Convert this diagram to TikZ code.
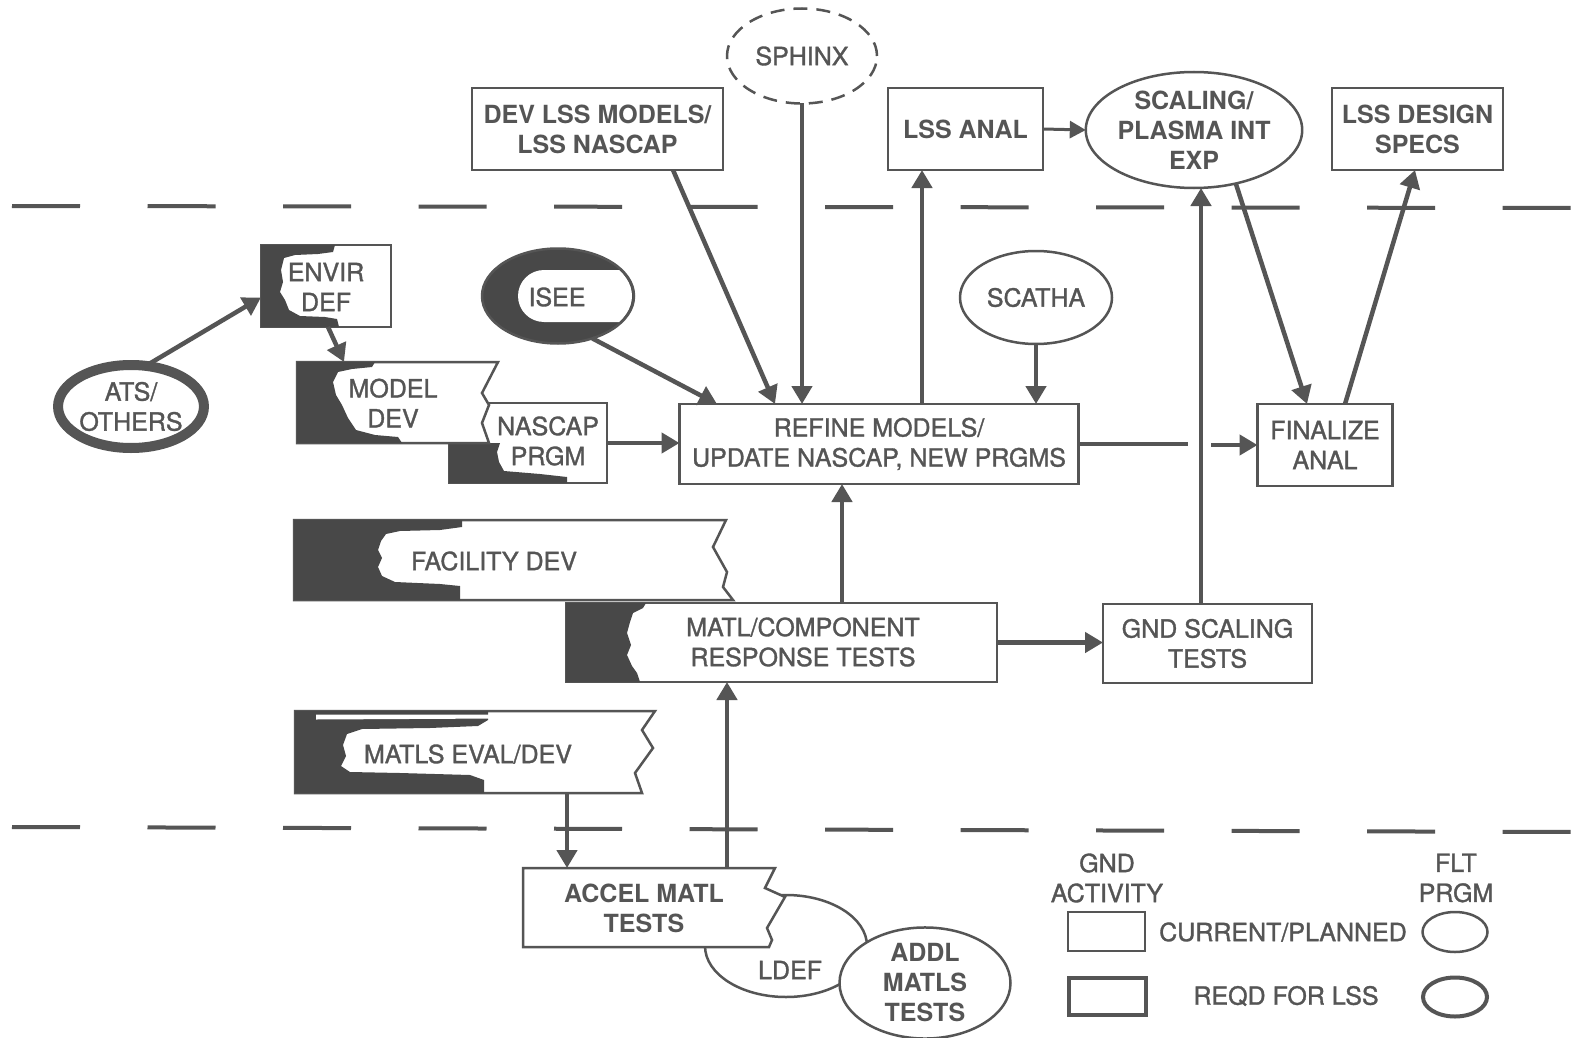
\documentclass[tikz,border=0pt]{standalone}
\usepackage{fontspec}
\setmainfont{TeX Gyre Heros}[UprightFeatures={FakeBold=1.3}]
\usetikzlibrary{arrows.meta,shapes.geometric,calc}
\definecolor{ink}{RGB}{85,85,85}
\definecolor{inkd}{RGB}{72,72,72}
\newcommand\regf{\fontsize{25}{30}\selectfont}
\newcommand\bldf{\fontsize{25}{30}\selectfont\bfseries}
\begin{document}
\begin{tikzpicture}[x=1pt,y=-1pt,
 box/.style={rectangle,draw=ink,line width=2.5pt,fill=white,inner sep=0pt,outer sep=0pt,align=center,text=ink,font=\regf},
 bbox/.style={box,font=\bldf},
 oval/.style={ellipse,draw=ink,line width=2.5pt,fill=white,inner sep=0pt,outer sep=0pt,align=center,text=ink,font=\regf},
 boval/.style={oval,font=\bldf},
 lbl/.style={inner sep=0pt,align=center,text=ink,font=\regf},
 blbl/.style={lbl,font=\bldf},
 frame/.style={rectangle,inner sep=0pt,outer sep=0pt},
 outline/.style={draw=ink,line width=2.5pt,fill=white,line join=miter},
 dark/.style={fill=inkd},
 arr/.style={draw=ink,line width=4.5pt,-{Triangle[length=18pt,width=20pt]}},
 thinarr/.style={draw=ink,line width=3pt,-{Triangle[length=16pt,width=17pt]}},
 lineonly/.style={draw=ink,line width=4.5pt},
 sep/.style={draw=ink,line width=4pt,dash pattern=on 68pt off 67.5pt},
]
\useasboundingbox (0,0) rectangle (1574,1038);
\fill[white] (0,0) rectangle (1574,1038);

% separators
\draw[sep] (12,206) -- (1574,208);
\draw[sep] (12,827) -- (1574,832);

% top row
\node[oval,dashed,dash pattern=on 14pt off 9pt,minimum width=150pt,minimum height=95pt] (sphinx) at (802,56) {SPHINX};
\node[bbox,minimum width=251pt,minimum height=82pt] (dev) at (597.5,129) {DEV LSS MODELS/\\LSS NASCAP};
\node[bbox,minimum width=155pt,minimum height=82pt] (lssanal) at (965.5,129) {LSS ANAL};
\node[boval,minimum width=208pt,minimum height=116pt] (scaling) at (1194,130) {SCALING/\\PLASMA INT\\EXP};
\node[bbox,minimum width=171pt,minimum height=82pt] (specs) at (1417.5,129) {LSS DESIGN\\SPECS};

% ENVIR DEF
\node[box,minimum width=130pt,minimum height=82pt] (envir) at (326,286) {};
\fill[dark] (261,245) -- (335,245) -- (333,252) -- (318,254) -- (295,255) -- (284,258) -- (281,270) -- (283,282) -- (280,292) -- (285,300) -- (289,310) -- (300,316) -- (325,317) -- (337,319) -- (339,327) -- (261,327) -- cycle;
\node[lbl] (envirT) at (326,287) {ENVIR\\DEF};

% ATS/OTHERS
\node[oval,line width=10pt,minimum width=145pt,minimum height=83pt] (ats) at (131,406.5) {ATS/\\OTHERS};

% ISEE
\node[oval,fill=inkd,minimum width=152pt,minimum height=95pt] (isee) at (558,296) {};
\begin{scope}
\clip (558,296) ellipse [x radius=74pt, y radius=46pt];
\fill[white,rounded corners=26pt] (660,270) -- (518,270) -- (518,322) -- (660,322) -- cycle;
\end{scope}
\node[lbl] (iseeT) at (557,297) {ISEE};

% SCATHA
\node[oval,minimum width=152pt,minimum height=93pt] (scatha) at (1036,297.5) {SCATHA};

% NASCAP PRGM and MODEL DEV
\node[box,minimum width=158pt,minimum height=80pt] (nascap) at (528,443) {};
\fill[dark] (449,443) -- (500,443) -- (497,452) -- (499,462) -- (504,471) -- (540,474) -- (567,477) -- (567,483) -- (449,483) -- cycle;
\node[lbl] (nascapT) at (548,441) {NASCAP\\PRGM};
\node[frame,minimum width=201pt,minimum height=81pt] (modelF) at (397.5,402.5) {};
\draw[outline] (297,362) -- (498,362) -- (482,393) -- (489,405) -- (482,423) -- (489,443) -- (297,443) -- cycle;
\fill[dark] (297,362) -- (375,362) -- (372,367) -- (352,369) -- (338,372) -- (333,382) -- (336,395) -- (342,405) -- (348,418) -- (356,430) -- (375,435) -- (398,437) -- (402,443) -- (297,443) -- cycle;
\node[lbl] (modelT) at (393,403) {MODEL\\DEV};

% REFINE, FINALIZE
\node[box,minimum width=399pt,minimum height=80pt] (refine) at (879,444) {REFINE MODELS/\\UPDATE NASCAP, NEW PRGMS};
\node[box,minimum width=135pt,minimum height=82pt] (finalize) at (1325,445) {FINALIZE\\ANAL};

% FACILITY DEV
\node[frame,minimum width=439pt,minimum height=80pt] (facilityF) at (513.5,560) {};
\draw[outline] (294,520) -- (726,520) -- (713,547) -- (727,572) -- (723,587) -- (733,600) -- (294,600) -- cycle;
\fill[dark] (294,520) -- (462,520) -- (462,527) -- (440,530) -- (400,531) -- (386,534) -- (381,541) -- (378,550) -- (382,558) -- (378,567) -- (382,576) -- (395,582) -- (440,584) -- (460,586) -- (460,600) -- (294,600) -- cycle;
\node[lbl] (facilityT) at (494,561) {FACILITY DEV};

% MATL/COMPONENT
\node[box,minimum width=431pt,minimum height=79pt] (matl) at (781.5,642.5) {};
\fill[dark] (566,603) -- (646,603) -- (643,608) -- (633,613) -- (630,622) -- (627,633) -- (631,645) -- (627,655) -- (632,666) -- (637,673) -- (640,682) -- (566,682) -- cycle;
\node[lbl] (matlT) at (803,642) {MATL/COMPONENT\\RESPONSE TESTS};

% GND SCALING
\node[box,minimum width=209pt,minimum height=79pt] (gnd) at (1207.5,643.5) {GND SCALING\\TESTS};

% MATLS EVAL/DEV
\node[frame,minimum width=360pt,minimum height=82pt] (matlsF) at (475,752) {};
\draw[outline] (295,711) -- (655,711) -- (642,730) -- (653,748) -- (635,773) -- (642,793) -- (295,793) -- cycle;
\fill[dark] (295,711) -- (488,711) -- (488,720) -- (478,726) -- (430,728) -- (362,729) -- (347,734) -- (343,745) -- (346,756) -- (341,766) -- (350,772) -- (400,773) -- (470,775) -- (484,780) -- (484,793) -- (295,793) -- cycle;
\fill[white] (316,714.5) -- (500,714.5) -- (500,718.5) -- (316,719.5) -- cycle;
\node[lbl] (matlsT) at (468,754) {MATLS EVAL/DEV};

% LDEF, ADDL, ACCEL
\node[oval,minimum width=162pt,minimum height=102pt] (ldef) at (786,946) {};
\node[lbl] (ldefT) at (790,970) {LDEF};
\node[boval,minimum width=171pt,minimum height=106pt] (addl) at (925,983) {ADDL\\MATLS\\TESTS};
\node[frame,minimum width=262pt,minimum height=79pt] (accelF) at (654,907.5) {};
\draw[outline] (523,868) -- (775,868) -- (765,888) -- (785,897) -- (767,928) -- (772,940) -- (769,947) -- (523,947) -- cycle;
\node[blbl] (accelT) at (644,908) {ACCEL MATL\\TESTS};

% legend
\node[lbl] (legG) at (1107,878) {GND\\ACTIVITY};
\node[lbl] (legF) at (1456,878) {FLT\\PRGM};
\node[box,minimum width=77pt,minimum height=39pt] (legB1) at (1106.5,931.5) {};
\node[box,line width=4pt,minimum width=77pt,minimum height=37pt] (legB2) at (1107,996) {};
\node[lbl] (legT1) at (1283,932) {CURRENT/PLANNED};
\node[lbl] (legT2) at (1286,996) {REQD FOR LSS};
\node[oval,minimum width=65pt,minimum height=40pt] (legE1) at (1455,932) {};
\node[oval,line width=4pt,minimum width=64pt,minimum height=39pt] (legE2) at (1455,997) {};

% helper x positions
\coordinate (xIsee) at (717,0);
\coordinate (xDevS) at (673,0);
\coordinate (xDevE) at (775,0);
\coordinate (xAnal) at (922,0);
\coordinate (xGnd) at (1201,0);
\coordinate (xFinIn) at (1307,0);
\coordinate (xFinOut) at (1345,0);
\coordinate (xSpecs) at (1415,0);
\coordinate (xMatl) at (842,0);
\coordinate (xMatls) at (567,0);
\coordinate (xAccel) at (727,0);
\coordinate (xModel) at (344,0);
\coordinate (gapL) at (1188,445);
\coordinate (gapR) at (1211,445);

% connectors
\draw[arr] (ats.70) -- (envir.190);
\draw[arr] (envir.south) ++(2,0) -- (xModel |- modelF.north);
\draw[arr] (nascap.east) -- (nascap.east -| refine.west);
\draw[arr] (isee.-51) -- (xIsee |- refine.north);
\draw[arr] (xDevS |- dev.south) -- (xDevE |- refine.north);
\draw[arr] (sphinx.south) -- (sphinx.south |- refine.north);
\draw[arr] (xAnal |- refine.north) -- (xAnal |- lssanal.south);
\draw[arr] (scatha.south) -- (scatha.south |- refine.north);
\draw[thinarr] (lssanal.east) -- (scaling.west);
\draw[arr] (xGnd |- gnd.north) -- (xGnd |- scaling.south);
\draw[arr] (scaling.-52) -- (xFinIn |- finalize.north);
\draw[arr] (xFinOut |- finalize.north) -- (xSpecs |- specs.south);
\draw[lineonly] (refine.east) -- (refine.east -| gapL);
\draw[arr] (gapR) -- (finalize.west);
\draw[arr] (xMatl |- matl.north) -- (xMatl |- refine.south);
\draw[arr] (matl.east) -- (matl.east -| gnd.west);
\draw[arr] (xMatls |- matlsF.south) -- (xMatls |- accelF.north);
\draw[arr] (xAccel |- accelF.north) -- (xAccel |- matl.south);
\end{tikzpicture}
\end{document}
